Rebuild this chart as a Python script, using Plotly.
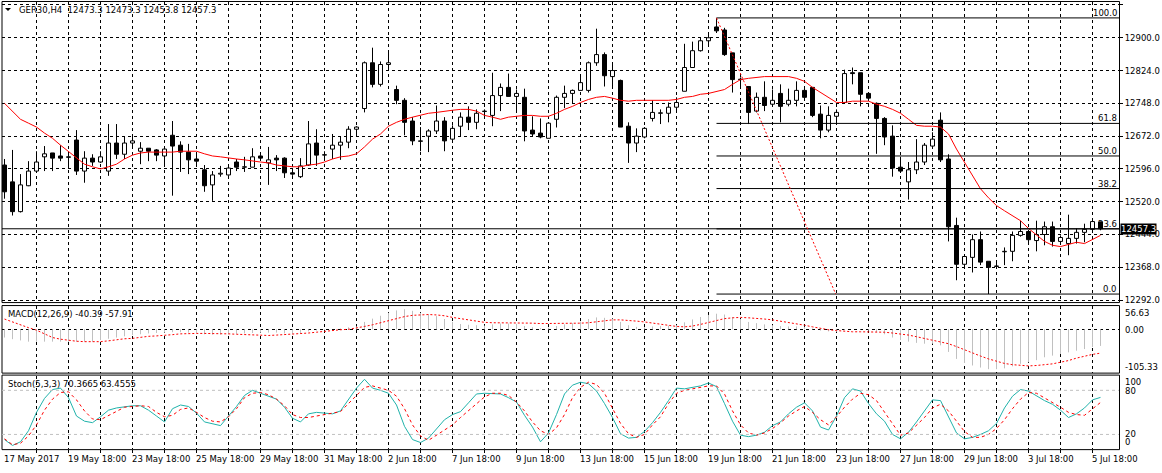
import plotly.graph_objects as go

# ---------------- data ----------------
opens = [12605,12566,12497,12557,12591,12624,12633,12626,12624,12663,
         12591,12621,12612,12591,12656,12630,12656,12637,12644,12640,
         12626,12674,12651,12635,12619,12594,12559,12584,12582,12612,
         12600,12600,12626,12610,12621,12621,12587,12578,12605,12656,
         12628,12642,12651,12658,12688,12736,12842,12792,12838,12780,
         12755,12707,12660,12672,12684,12707,12665,12695,12716,12704,
         12729,12720,12766,12785,12764,12762,12686,12679,12667,12711,
         12762,12771,12778,12778,12842,12861,12810,12801,12695,12656,
         12670,12713,12725,12725,12739,12776,12831,12870,12893,12925,
         12918,12865,12804,12787,12730,12762,12746,12771,12746,12755,
         12778,12785,12723,12686,12718,12750,12819,12819,12771,12748,
         12713,12672,12600,12566,12594,12612,12649,12709,12619,12465,
         12375,12391,12432,12382,12370,12404,12405,12442,12451,12430,
         12444,12462,12428,12423,12435,12449,12456,12473.3]
highs = [12619,12640,12584,12614,12637,12649,12633,12651,12637,12686,
         12637,12630,12637,12700,12700,12672,12672,12658,12644,12642,
         12649,12707,12660,12654,12630,12605,12591,12603,12603,12619,
         12624,12644,12628,12647,12628,12623,12596,12621,12707,12688,
         12637,12677,12670,12695,12695,12845,12877,12845,12870,12789,
         12760,12716,12693,12688,12743,12716,12697,12727,12741,12734,
         12734,12819,12794,12817,12780,12782,12718,12713,12702,12766,
         12789,12780,12815,12845,12921,12866,12842,12803,12704,12690,
         12693,12755,12734,12750,12762,12886,12891,12900,12907,12946,
         12923,12865,12808,12787,12773,12799,12780,12792,12782,12799,
         12787,12785,12743,12741,12734,12826,12831,12819,12773,12750,
         12716,12697,12624,12612,12665,12656,12681,12727,12630,12483,
         12393,12444,12451,12382,12382,12414,12451,12476,12451,12476,
         12474,12474,12442,12490,12458,12469,12476,12473.3]
lows = [12527,12488,12495,12556,12589,12591,12591,12614,12596,12582,
        12564,12603,12610,12580,12619,12619,12647,12607,12614,12614,
        12603,12534,12589,12584,12603,12543,12522,12578,12580,12591,
        12589,12600,12619,12559,12591,12575,12580,12575,12603,12603,
        12619,12619,12617,12644,12674,12727,12785,12787,12826,12746,
        12674,12651,12637,12635,12677,12637,12661,12670,12686,12688,
        12718,12695,12730,12764,12727,12660,12670,12667,12667,12692,
        12737,12748,12778,12773,12835,12787,12785,12693,12610,12635,
        12667,12706,12700,12704,12730,12776,12831,12868,12879,12911,
        12858,12773,12785,12700,12727,12730,12741,12704,12741,12741,
        12757,12716,12667,12681,12700,12750,12792,12741,12757,12631,
        12651,12578,12591,12525,12584,12605,12649,12612,12428,12338,
        12368,12356,12373,12306,12368,12373,12382,12439,12425,12405,
        12419,12416,12423,12396,12423,12426,12453,12453.8]
closes = [12543,12497,12559,12591,12612,12631,12621,12621,12623,12591,
          12621,12612,12624,12656,12630,12656,12661,12644,12637,12628,
          12642,12649,12635,12617,12614,12557,12582,12586,12598,12600,
          12601,12624,12621,12617,12617,12587,12584,12603,12654,12628,
          12629,12651,12658,12688,12693,12842,12792,12838,12842,12755,
          12704,12661,12661,12684,12707,12661,12690,12716,12704,12725,
          12730,12766,12785,12764,12771,12684,12677,12670,12702,12762,
          12771,12778,12796,12842,12861,12812,12824,12693,12656,12672,
          12690,12727,12726,12739,12750,12831,12870,12893,12900,12916,
          12861,12803,12803,12727,12762,12743,12755,12741,12755,12778,
          12762,12720,12686,12720,12727,12817,12817,12769,12760,12713,
          12670,12598,12591,12594,12612,12651,12665,12617,12462,12375,
          12393,12432,12380,12368,12371,12405,12442,12451,12432,12444,
          12462,12428,12437,12435,12449,12456,12474,12457.3]
ma = [12748,12730,12711,12702,12693,12679,12667,12651,12637,12621,
      12607,12601,12596,12601,12607,12619,12628,12633,12635,12635,
      12635,12635,12637,12637,12637,12631,12626,12624,12621,12619,
      12617,12614,12612,12610,12605,12603,12601,12601,12605,12607,
      12612,12619,12624,12626,12631,12647,12665,12677,12695,12704,
      12711,12716,12720,12725,12727,12730,12732,12734,12734,12730,
      12720,12716,12711,12716,12718,12720,12720,12718,12718,12725,
      12734,12741,12750,12757,12762,12764,12760,12755,12753,12755,
      12755,12755,12755,12755,12757,12762,12764,12769,12771,12776,
      12780,12792,12803,12806,12808,12810,12810,12810,12810,12806,
      12799,12785,12773,12760,12750,12750,12753,12753,12753,12746,
      12741,12734,12725,12711,12697,12695,12695,12693,12677,12642,
      12612,12580,12550,12529,12511,12499,12488,12476,12458,12444,
      12428,12419,12416,12421,12426,12423,12432,12442]
macd_main = [-20,-24,-27,-30,-30,-30,-30,-30,-30,-30,
             -30,-30,-26,-23,-20,-17,-14,-12,-10,-9,
             -8,-7,-7,-8,-9,-12,-13,-13,-12,-11,
             -10,-9,-8,-8,-8,-10,-11,-10,-5,-3,
             -2,0,2,5,7,18,26,33,40,46,
             49,45,40,36,32,25,18,13,11,10,
             9,12,14,14,13,8,5,3,4,8,
             12,15,19,25,29,28,26,18,10,6,
             5,7,8,9,10,17,24,30,35,38,
             36,30,25,18,15,12,10,8,7,7,
             6,2,-3,-5,-6,-2,0,-1,-3,-7,
             -12,-20,-26,-30,-33,-35,-35,-39,-55,-72,
             -82,-88,-93,-97,-97,-95,-90,-84,-80,-75,
             -68,-64,-60,-56,-52,-48,-43,-40.39]
macd_signal = [25,18,10,4,-2,-12,-20,-24,-27,-29,
               -30,-30,-30,-28,-25,-23,-22,-19,-17,-16,
               -15,-13,-11,-10,-10,-10,-10,-11,-11,-12,
               -13,-14,-14,-15,-14,-13,-12,-10,-9,-7,
               -5,-2,-1,0,3,7,11,16,21,27,
               31,34,35,36,35,33,29,26,22,19,
               17,16,16,16,16,16,15,14,14,14,
               14,14,15,16,18,21,23,23,22,20,
               18,15,12,9,7,6,8,12,17,22,
               26,28,29,28,27,25,23,20,17,13,
               10,6,2,-1,-3,-5,-6,-6,-6,-6,
               -7,-9,-11,-14,-18,-22,-26,-30,-35,-42,
               -50,-58,-65,-72,-78,-83,-86,-88,-89,-88,
               -86,-84,-80,-76,-70,-65,-61,-57.91]
stoch_k = [13,5,10,25,50,69,81,83,70,45,
           38,36,44,53,56,58,59,59,53,45,
           37,55,60,58,49,37,34,32,45,58,
           73,80,76,72,68,57,42,37,48,50,
           49,48,52,68,83,95,83,80,76,60,
           31,13,9,15,28,40,47,51,63,75,
           76,76,75,70,64,46,30,10,22,47,
           75,87,91,89,79,62,43,21,15,16,
           24,36,50,66,83,82,84,86,90,85,
           62,38,19,17,19,23,32,37,48,57,
           63,52,30,26,45,70,82,79,62,48,
           38,20,14,23,37,52,67,66,43,22,
           14,16,20,25,35,56,72,81,79,72,
           66,61,53,43,48,56,67,70.3665]
stoch_d = [14,6,8,18,33,53,68,77,78,67,
           52,41,40,46,52,57,58,59,58,50,
           44,46,54,56,50,43,38,37,44,55,
           70,76,77,74,68,59,47,43,43,45,
           48,49,51,62,73,84,86,83,80,72,
           55,33,18,12,19,26,33,43,52,61,
           71,76,76,73,64,52,37,25,20,29,
           47,70,84,91,88,76,55,35,21,16,
           20,33,44,62,76,80,82,84,86,86,
           75,52,33,22,19,22,28,36,45,52,
           58,50,40,33,44,57,68,76,74,66,
           50,35,19,22,32,43,56,61,52,38,
           24,16,16,20,28,40,55,68,77,76,
           70,64,57,50,47,46,55,63.4555]
time_labels = ["17 May 2017", "19 May 18:00", "23 May 18:00", "25 May 18:00",
               "29 May 18:00", "31 May 18:00", "2 Jun 18:00", "7 Jun 18:00",
               "9 Jun 18:00", "13 Jun 18:00", "15 Jun 18:00", "19 Jun 18:00",
               "21 Jun 18:00", "23 Jun 18:00", "27 Jun 18:00", "29 Jun 18:00",
               "3 Jul 18:00", "5 Jul 18:00"]
price_ticks = [12292, 12368, 12444, 12520, 12596, 12672, 12748, 12824, 12900, 12976]
fib_high = 12946.0
fib_low = 12306.0
fib_ratios = [1.0, 0.618, 0.5, 0.382, 0.236, 0.0]
fib_labels = ["100.0", "61.8", "50.0", "38.2", "23.6", "0.0"]
fib_start_bar = 89
trend_x = [89, 103.9]
trend_y = [12946.0, 12306.0]
macd_labels = ["56.63", "0.00", "-105.33"]
stoch_labels = ["100", "80", "20", "0"]
header = "GER30,H4  12473.3 12473.3 12453.8 12457.3"
macd_title = "MACD(12,26,9) -40.39 -57.91"
stoch_title = "Stoch(5,3,3) 70.3665 63.4555"

# ---------------- layout helpers ----------------
W, H = 1162, 473
def px(x): return x / W
def py(y): return 1 - y / H

FONT = "DejaVu Sans"
FS = 8.5
n = len(closes)
idx = list(range(n))
XR = [-0.3125, 139.3125]
XDOM = [px(2), px(1119)]

fig = go.Figure()

# wicks (split around bodies)
wx, wy = [], []
for i, (o, h, l, c) in enumerate(zip(opens, highs, lows, closes)):
    top, bot = max(o, c), min(o, c)
    wx += [i, i, None, i, i, None]
    wy += [h, top, None, bot, l, None]
fig.add_trace(go.Scatter(x=wx, y=wy, mode="lines", line=dict(color="black", width=1),
                         xaxis="x", yaxis="y", hoverinfo="skip"))
# bodies
base = [min(o, c) for o, c in zip(opens, closes)]
hgt = [max(abs(c - o), 0.8) for o, c in zip(opens, closes)]
cols = ["white" if c >= o else "black" for o, c in zip(opens, closes)]
fig.add_trace(go.Bar(x=idx, y=hgt, base=base, width=0.5,
                     marker=dict(color=cols, line=dict(color="black", width=1)),
                     xaxis="x", yaxis="y", hoverinfo="skip"))
# moving average
fig.add_trace(go.Scatter(x=idx, y=ma, mode="lines", line=dict(color="#ff0000", width=1),
                         xaxis="x", yaxis="y", hoverinfo="skip"))

# MACD histogram
hx, hy = [], []
for i, v in enumerate(macd_main):
    hx += [i, i, None]
    hy += [0, v, None]
fig.add_trace(go.Scatter(x=hx, y=hy, mode="lines", line=dict(color="#c0c0c0", width=1),
                         xaxis="x2", yaxis="y2", hoverinfo="skip"))
fig.add_trace(go.Scatter(x=idx, y=macd_signal, mode="lines",
                         line=dict(color="#ff0000", width=1, dash="2px,2px"),
                         xaxis="x2", yaxis="y2", hoverinfo="skip"))

# Stochastic
fig.add_trace(go.Scatter(x=idx, y=stoch_k, mode="lines", line=dict(color="#20b2aa", width=1),
                         xaxis="x3", yaxis="y3", hoverinfo="skip"))
fig.add_trace(go.Scatter(x=idx, y=stoch_d, mode="lines",
                         line=dict(color="#ff0000", width=1, dash="3px,3px"),
                         xaxis="x3", yaxis="y3", hoverinfo="skip"))

grid = dict(showgrid=True, gridcolor="black", gridwidth=1, griddash="3px,3px")
xcommon = dict(range=XR, domain=XDOM, tickmode="array", tickvals=list(range(4, n, 4)),
               showticklabels=False, zeroline=False, showline=False, **grid)
fig.update_layout(
    width=W, height=H, margin=dict(l=0, r=0, t=0, b=0),
    paper_bgcolor="white", plot_bgcolor="white", showlegend=False, barmode="overlay",
    font=dict(family=FONT, size=FS, color="black"),
    xaxis=dict(anchor="y", ticks="", **xcommon),
    xaxis2=dict(anchor="y2", matches="x", ticks="", **xcommon),
    xaxis3=dict(anchor="y3", matches="x", ticks="outside", ticklen=3, tickcolor="black", **xcommon),
    yaxis=dict(domain=[py(304), py(2)], range=[12287.4, 12982.9], side="right", anchor="x",
               tickmode="array", tickvals=price_ticks, ticktext=[f"{v:.1f}" for v in price_ticks],
               ticks="outside", ticklen=3, tickcolor="black", zeroline=False, showline=False,
               tickfont=dict(family=FONT, size=FS, color="black"), **grid),
    yaxis2=dict(domain=[py(375), py(308)], range=[-105.33, 56.63], anchor="x2", side="right",
                tickmode="array", tickvals=[0], showticklabels=False, zeroline=False, **grid),
    yaxis3=dict(domain=[py(452), py(378)], range=[0, 100], anchor="x3", side="right",
                showgrid=False, showticklabels=False, zeroline=False),
)

shapes = []
# pane borders
for (t, b) in [(1.5, 304.5), (307.5, 375.5), (377.5, 452.5)]:
    shapes.append(dict(type="rect", xref="paper", yref="paper", x0=px(2), x1=px(1119.5),
                       y0=py(b), y1=py(t), line=dict(color="black", width=1), layer="above"))
# fibonacci levels
fib_vals = [fib_low + r * (fib_high - fib_low) for r in fib_ratios]
for v in fib_vals:
    shapes.append(dict(type="line", xref="x", yref="y", x0=fib_start_bar, x1=XR[1], y0=v, y1=v,
                       line=dict(color="black", width=1)))
# bid line
shapes.append(dict(type="line", xref="x", yref="y", x0=XR[0], x1=XR[1], y0=closes[-1], y1=closes[-1],
                   line=dict(color="black", width=1)))
# trend line
shapes.append(dict(type="line", xref="x", yref="y", x0=trend_x[0], x1=trend_x[1], y0=trend_y[0], y1=trend_y[1],
                   line=dict(color="#ff0000", width=1, dash="2px,2px")))
# stoch levels
for lv in (20, 80):
    shapes.append(dict(type="line", xref="x3", yref="y3", x0=XR[0], x1=XR[1], y0=lv, y1=lv,
                       line=dict(color="#c0c0c0", width=1, dash="3px,3px")))
# header triangle
shapes.append(dict(type="path", xref="paper", yref="paper",
                   path=f"M {px(5)} {py(8)} L {px(11)} {py(8)} L {px(8)} {py(11)} Z",
                   fillcolor="black", line=dict(color="black", width=0)))
fig.update_layout(shapes=shapes)

ann = []
af = dict(family=FONT, size=FS, color="black")
ann.append(dict(text=header, xref="paper", yref="paper", x=px(17), y=py(10), xanchor="left",
                yanchor="middle", showarrow=False, font=af))
ann.append(dict(text=macd_title, xref="paper", yref="paper", x=px(6), y=py(316), xanchor="left",
                yanchor="middle", showarrow=False, font=af))
ann.append(dict(text=stoch_title, xref="paper", yref="paper", x=px(6), y=py(386), xanchor="left",
                yanchor="middle", showarrow=False, font=af))
for lab, v in zip(fib_labels, fib_vals):
    ann.append(dict(text=lab, xref="paper", yref="y", x=px(1118), y=v, xanchor="right",
                    yanchor="bottom", showarrow=False, font=af, borderpad=0, yshift=-1))
ann.append(dict(text=f"{closes[-1]:.1f}", xref="paper", yref="y", x=px(1120), y=closes[-1],
                xanchor="left", yanchor="middle", showarrow=False, bgcolor="black",
                font=dict(family=FONT, size=FS, color="white"), borderpad=0))
for lab, yy in zip(macd_labels, [315, 332, 369]):
    ann.append(dict(text=lab, xref="paper", yref="paper", x=px(1123), y=py(yy), xanchor="left",
                    yanchor="middle", showarrow=False, font=af))
for lab, yy in zip(stoch_labels, [384, 393, 437, 445]):
    ann.append(dict(text=lab, xref="paper", yref="paper", x=px(1123), y=py(yy), xanchor="left",
                    yanchor="middle", showarrow=False, font=af))
for k, lab in enumerate(time_labels):
    ann.append(dict(text=lab, xref="x3", yref="paper", x=8 * k, y=py(462), xanchor="left",
                    yanchor="middle", showarrow=False, font=af, xshift=-3))
fig.update_layout(annotations=ann)

fig.write_html("out.html", config={"displayModeBar": False})
